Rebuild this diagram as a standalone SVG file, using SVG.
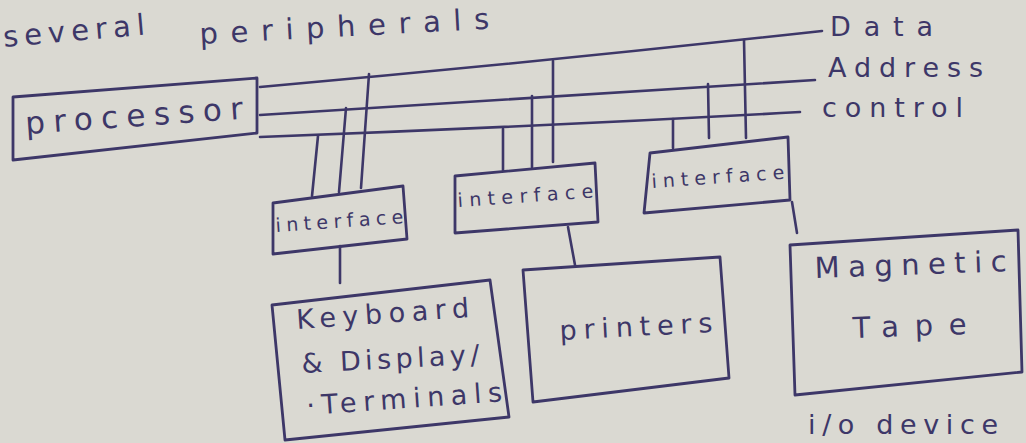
<svg xmlns="http://www.w3.org/2000/svg" width="1026" height="443" viewBox="0 0 1026 443">
<style>
.ink{fill:none;stroke:#3d3768;stroke-width:2.6;stroke-linecap:round;stroke-linejoin:round}
.box{fill:none;stroke:#3d3768;stroke-width:2.8;stroke-linejoin:round}
text{font-family:"DejaVu Sans","Liberation Sans",sans-serif;fill:#3d3768}
.big{font-size:31px}
.mid{font-size:29px}
.small{font-size:19px}
.lab{font-size:27px}
</style>
<rect width="1026" height="443" fill="#dad9d2"/>
<text class="mid" x="4" y="47" transform="rotate(-5 4 47)" textLength="142" lengthAdjust="spacing">several</text>
<text class="mid" x="200" y="44" transform="rotate(-3 200 44)" textLength="290" lengthAdjust="spacing">peripherals</text>
<text class="lab" x="808" y="434" textLength="190" lengthAdjust="spacing">i/o device</text>
<g id="connectors">
<path class="ink" d="M260,87 Q540,62 822,31"/>
<path class="ink" d="M260,115 Q540,97 815,80"/>
<path class="ink" d="M260,137 Q530,127 800,112"/>
<path class="ink" d="M318,136 L312,196"/>
<path class="ink" d="M346,108 L339,192"/>
<path class="ink" d="M369,74 L361,188"/>
<path class="ink" d="M503,129 L503,170"/>
<path class="ink" d="M532,96 L532,167"/>
<path class="ink" d="M553,61 L553,162"/>
<path class="ink" d="M673,119 L673,148"/>
<path class="ink" d="M708,84 L709,138"/>
<path class="ink" d="M744,40 L746,138"/>
<path class="ink" d="M340,246 L340,283"/>
<path class="ink" d="M568,227 L575,265"/>
<path class="ink" d="M792,202 L797,233"/>
</g>
<g id="processor">
<path class="box" d="M13,97 L257,78 L257,133 L13,160 Z"/>
<text class="big" x="26" y="134" transform="rotate(-4 26 134)" textLength="218" lengthAdjust="spacing">processor</text>
</g>
<g id="interface1">
<path class="box" d="M273,203 L403,186 L407,239 L273,254 Z"/>
<text class="small" x="276" y="232" transform="rotate(-4 276 232)" textLength="128" lengthAdjust="spacing">interface</text>
</g>
<g id="interface2">
<path class="box" d="M455,176 L595,163 L598,222 L455,233 Z"/>
<text class="small" x="458" y="207" transform="rotate(-4 458 207)" textLength="136" lengthAdjust="spacing">interface</text>
</g>
<g id="interface3">
<path class="box" d="M650,153 L788,137 L790,200 L644,213 Z"/>
<text class="small" x="652" y="188" transform="rotate(-4 652 188)" textLength="133" lengthAdjust="spacing">interface</text>
</g>
<g id="keyboard">
<path class="box" d="M272,305 L490,280 L509,417 L285,440 Z"/>
<text class="lab" x="297" y="329" transform="rotate(-4 297 329)" textLength="173" lengthAdjust="spacing">Keyboard</text>
<text class="lab" x="302" y="373" transform="rotate(-3 302 373)" textLength="178" lengthAdjust="spacing">&amp; Display/</text>
<text class="lab" x="307" y="415" transform="rotate(-4 307 415)" textLength="196" lengthAdjust="spacing">·Terminals</text>
</g>
<g id="printers">
<path class="box" d="M523,270 L720,257 L729,378 L533,402 Z"/>
<text class="lab" x="560" y="340" transform="rotate(-3 560 340)" textLength="153" lengthAdjust="spacing">printers</text>
</g>
<g id="magnetic">
<path class="box" d="M790,245 L1018,230 L1022,372 L795,395 Z"/>
<text class="mid" x="815" y="278" transform="rotate(-2 815 278)" textLength="192" lengthAdjust="spacing">Magnetic</text>
<text class="mid" x="853" y="338" transform="rotate(-2 853 338)" textLength="114" lengthAdjust="spacing">Tape</text>
</g>
<text class="lab" x="830" y="36" textLength="103" lengthAdjust="spacing">Data</text>
<text class="lab" x="828" y="77" textLength="155" lengthAdjust="spacing">Address</text>
<text class="lab" x="822" y="117" textLength="141" lengthAdjust="spacing">control</text>
</svg>
